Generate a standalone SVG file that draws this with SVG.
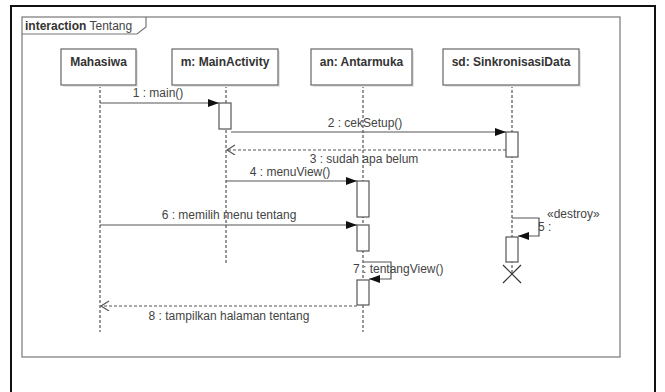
<svg xmlns="http://www.w3.org/2000/svg" width="665" height="392" viewBox="0 0 665 392">
<defs>
<style>
text{font-family:"Liberation Sans",Arial,sans-serif;font-size:12px;fill:#444}
.b{font-weight:bold;fill:#333}
.box{fill:#fff;stroke:#666;stroke-width:1.2}
.sh{fill:#e6e6e6}
.life{stroke:#333;stroke-width:1;stroke-dasharray:3,2;fill:none}
.act{fill:#fff;stroke:#555;stroke-width:1.2}
.msg{stroke:#555;stroke-width:1.2;fill:none}
.ret{stroke:#555;stroke-width:1.2;fill:none;stroke-dasharray:3,2}
</style>
<marker id="fa" markerWidth="12" markerHeight="10" refX="11" refY="4" orient="auto" markerUnits="userSpaceOnUse">
<path d="M0,0 L11,4 L0,8 Z" fill="#111"/>
</marker>
<marker id="oa" markerWidth="12" markerHeight="12" refX="9" refY="5" orient="auto" markerUnits="userSpaceOnUse">
<path d="M1,0 L9,5 L1,10" fill="none" stroke="#555" stroke-width="1.2"/>
</marker>
</defs>
<rect x="0" y="0" width="665" height="392" fill="#fff"/>
<rect x="11" y="6" width="644" height="400" fill="none" stroke="#111" stroke-width="2"/>
<g id="frame">
<rect x="22" y="17" width="598" height="340" fill="#fff" stroke="#777" stroke-width="1.2"/>
<path d="M22,34 L137,34 L146,27 L146,17" fill="none" stroke="#777" stroke-width="1.2"/>
<text x="25" y="30"><tspan class="b">interaction</tspan> Tentang</text>
</g>
<g id="lifelines">
<line class="life" x1="100" y1="85" x2="100" y2="332"/>
<line class="life" x1="226" y1="85" x2="226" y2="265"/>
<line class="life" x1="363" y1="85" x2="363" y2="332"/>
<line class="life" x1="512" y1="85" x2="512" y2="274"/>
</g>
<g id="mahasiwa">
<rect class="sh" x="63" y="51" width="75" height="36"/>
<rect class="box" x="61" y="49" width="75" height="36"/>
<text class="b" x="98.5" y="66" text-anchor="middle">Mahasiwa</text>
</g>
<g id="mainactivity">
<rect class="sh" x="174" y="51" width="106" height="36"/>
<rect class="box" x="172" y="49" width="106" height="36"/>
<text class="b" x="225" y="66" text-anchor="middle">m: MainActivity</text>
</g>
<g id="antarmuka">
<rect class="sh" x="313" y="51" width="101" height="36"/>
<rect class="box" x="311" y="49" width="101" height="36"/>
<text class="b" x="361.5" y="66" text-anchor="middle">an: Antarmuka</text>
</g>
<g id="sinkronisasi">
<rect class="sh" x="445" y="51" width="136" height="36"/>
<rect class="box" x="443" y="49" width="136" height="36"/>
<text class="b" x="511" y="66" text-anchor="middle">sd: SinkronisasiData</text>
</g>
<g id="activations">
<rect class="act" x="219" y="103" width="12" height="26"/>
<rect class="act" x="506" y="132" width="12" height="25"/>
<rect class="act" x="357" y="181" width="12" height="36"/>
<rect class="act" x="357" y="225" width="12" height="26"/>
<rect class="act" x="506" y="237" width="12" height="25"/>
<rect class="act" x="357" y="280" width="12" height="25"/>
</g>
<g id="connectors">
<line class="msg" x1="100" y1="103" x2="219" y2="103" marker-end="url(#fa)"/>
<line class="msg" x1="231" y1="132" x2="506" y2="132" marker-end="url(#fa)"/>
<line class="ret" x1="506" y1="150" x2="227" y2="150" marker-end="url(#oa)"/>
<line class="msg" x1="226" y1="181" x2="357" y2="181" marker-end="url(#fa)"/>
<line class="msg" x1="100" y1="225" x2="357" y2="225" marker-end="url(#fa)"/>
<path class="msg" d="M512,218 L539,218 L539,236 L518,236" marker-end="url(#fa)"/>
<path class="msg" d="M363,262 L391,262 L391,279 L369,279" marker-end="url(#fa)"/>
<line class="ret" x1="357" y1="306" x2="101" y2="306" marker-end="url(#oa)"/>
<path d="M503,265 L521,283 M521,265 L503,283" stroke="#333" stroke-width="1.2" fill="none"/>
</g>
<g id="labels">
<text x="158" y="97" text-anchor="middle">1 : main()</text>
<text x="365" y="127" text-anchor="middle">2 : cekSetup()</text>
<text x="364" y="163" text-anchor="middle">3 : sudah apa belum</text>
<text x="290" y="176" text-anchor="middle">4 : menuView()</text>
<text x="229" y="219" text-anchor="middle">6 : memilih menu tentang</text>
<text x="547" y="218">«destroy»</text>
<text x="538" y="231">5 :</text>
<text x="353" y="273">7 : tentangView()</text>
<text x="229" y="320" text-anchor="middle">8 : tampilkan halaman tentang</text>
</g>
</svg>
